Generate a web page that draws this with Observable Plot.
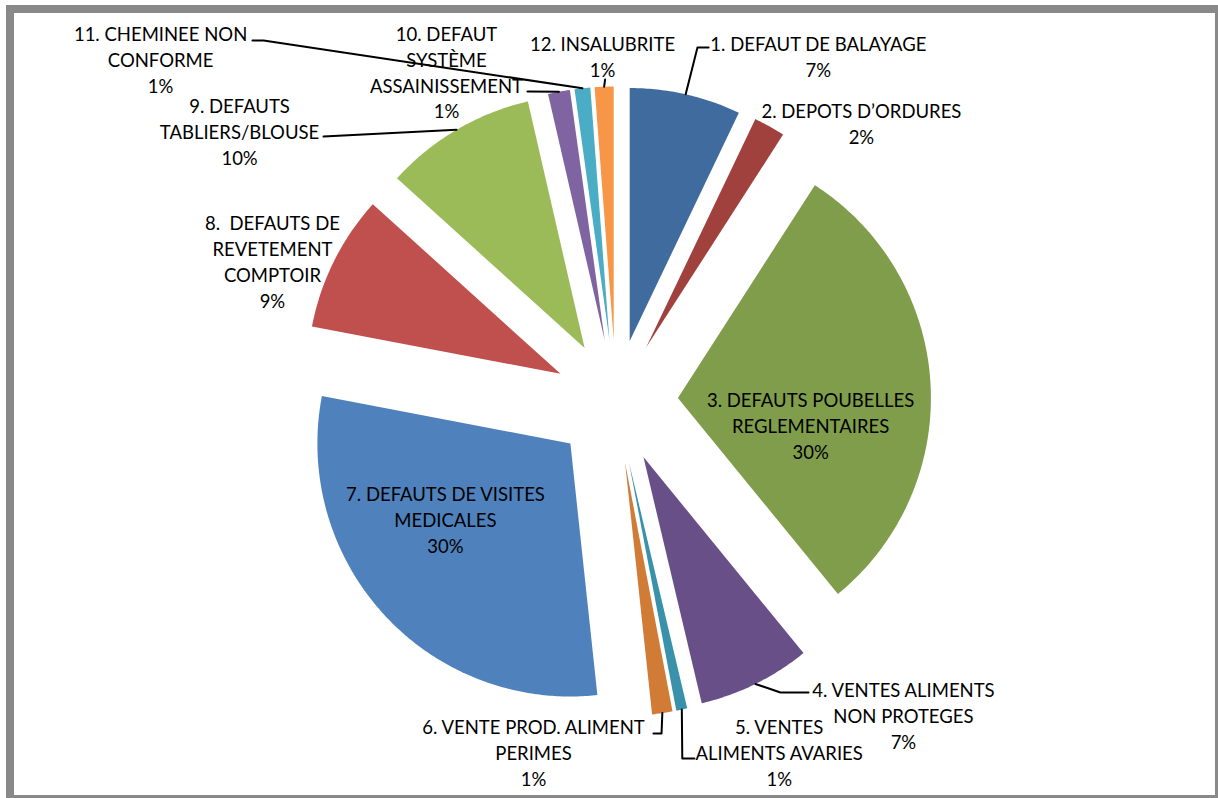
<!DOCTYPE html>
<html>
<head>
<meta charset="utf-8">
<script src="https://cdn.jsdelivr.net/npm/d3@7"></script>
<script src="https://cdn.jsdelivr.net/npm/@observablehq/plot@0.6"></script>
<style>
  html, body { margin: 0; padding: 0; background: #fff; overflow: hidden; }
  #wrap { position: relative; width: 1218px; height: 798px; }
  #chart { position: absolute; left: 0; top: 0; }
  #frame { position: absolute; left: 6px; top: 5px; width: 1217px; height: 798px;
           box-sizing: border-box; border: 8px solid #898989; pointer-events: none; }
  #chart text { white-space: pre; }
</style>
</head>
<body>
<div id="wrap"><div id="chart"></div><div id="frame"></div></div>
<script>
// ---- data ----
const categories = [
  "1. DEFAUT DE BALAYAGE",
  "2. DEPOTS D’ORDURES",
  "3. DEFAUTS POUBELLES\nREGLEMENTAIRES",
  "4. VENTES ALIMENTS\nNON PROTEGES",
  "5. VENTES\nALIMENTS AVARIES",
  "6. VENTE PROD. ALIMENT\nPERIMES",
  "7. DEFAUTS DE VISITES\nMEDICALES",
  "8.  DEFAUTS DE\nREVETEMENT\nCOMPTOIR",
  "9. DEFAUTS\nTABLIERS/BLOUSE",
  "10. DEFAUT\nSYSTÈME\nASSAINISSEMENT",
  "11. CHEMINEE NON\nCONFORME",
  "12. INSALUBRITE"
];
const values = [7.1, 2.0, 30.0, 7.2, 0.7, 1.3, 29.7, 8.7, 9.7, 1.4, 1.0, 1.2];
const colors = ["#3F6B9E", "#A0413E", "#7F9D4A", "#694F88", "#3A92AA", "#D07C37",
                "#4F81BD", "#C0504D", "#9BBB59", "#8064A2", "#4BACC6", "#F79646"];

// ---- layout (pie-radius units, origin at pie centre, y up) ----
const labelPos = [[0.800,1.368],[0.970,1.101],[0.769,-0.091],[1.136,-1.237],[0.645,-1.383],[-0.326,-1.383],
                  [-0.674,-0.462],[-1.358,0.557],[-1.488,1.071],[-0.670,1.305],[-1.800,1.354],[-0.053,1.368]];
const leaderPts = [
  [[0.322,1.399],[0.366,1.399]],
  [],
  [],
  [[0.650,-1.150],[0.761,-1.150]],
  [[0.262,-1.411],[0.310,-1.411]],
  [[0.180,-1.312],[0.148,-1.312]],
  [],
  [],
  [[-1.156,1.047]],
  [[-0.350,1.225]],
  [[-1.393,1.427],[-1.437,1.427]],
  [[-0.043,1.273]]
];
const W = 1218, H = 798, CX = 615.5, CY = 401, R = 253, EXPLODE = 62 / 253;

// ---- geometry ----
const total = d3.sum(values);
const arcs = d3.pie().sort(null).value(d => d)(values);
const slicePts = [];
const leaderRows = [];
arcs.forEach((a, i) => {
  const m = (a.startAngle + a.endAngle) / 2;
  const tx = EXPLODE * Math.sin(m), ty = EXPLODE * Math.cos(m);
  slicePts.push({i, x: tx, y: ty, color: colors[i]});
  const n = Math.max(2, Math.ceil((a.endAngle - a.startAngle) / 0.01) + 1);
  for (let k = 0; k < n; k++) {
    const t = a.startAngle + (a.endAngle - a.startAngle) * k / (n - 1);
    slicePts.push({i, x: tx + Math.sin(t), y: ty + Math.cos(t), color: colors[i]});
  }
  if (leaderPts[i].length) {
    leaderRows.push({i, x: tx + Math.sin(m), y: ty + Math.cos(m)});
    leaderPts[i].forEach(p => leaderRows.push({i, x: p[0], y: p[1]}));
  }
});
const fmt = d3.format(".0%");
const labels = categories.map((c, i) => ({
  x: labelPos[i][0], y: labelPos[i][1],
  text: c + "\n" + fmt(values[i] / total)
}));

const chart = Plot.plot({
  width: W, height: H, margin: 0,
  x: {domain: [-CX / R, (W - CX) / R], axis: null},
  y: {domain: [(CY - H) / R, CY / R], axis: null},
  color: {type: "identity"},
  marks: [
    Plot.line(slicePts, {x: "x", y: "y", z: "i", fill: "color", stroke: "none", curve: "linear-closed"}),
    Plot.line(leaderRows, {x: "x", y: "y", z: "i", stroke: "#000", strokeWidth: 2}),
    Plot.text(labels, {x: "x", y: "y", text: "text", fontSize: 18.5, lineHeight: 1.4,
      textAnchor: "middle", lineAnchor: "middle", fill: "#000", fontFamily: "Lato, sans-serif"})
  ]
});
chart.style.fontFamily = "Lato, sans-serif";
document.getElementById("chart").appendChild(chart);
</script>
</body>
</html>
